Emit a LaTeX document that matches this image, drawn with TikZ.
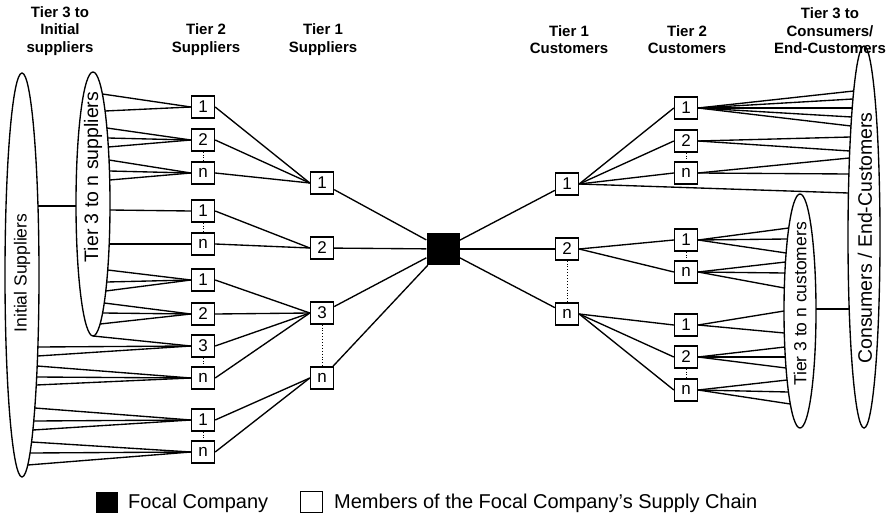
\documentclass[tikz,border=0pt]{standalone}
\usepackage{fontspec}
\setmainfont{Liberation Sans}
\usetikzlibrary{shapes.geometric}
% fan of lines from a box anchor to points on an ellipse boundary
% #1 anchor, #2 list of y, #3 cx, #4 cy, #5 rx, #6 ry, #7 side (+1 right, -1 left)
\newcommand\fanto[7]{%
  \foreach \yy in {#2}{%
    \path ({#3+#7*#5*sqrt(1-((\yy-#4)/#6)^2)},\yy) coordinate (fanend);
    \draw[ln] (#1) -- (fanend);
  }}
\newcommand\fanTS[2]{\fanto{#1}{#2}{93}{204}{17}{132}{1}}
\newcommand\fanIS[2]{\fanto{#1}{#2}{22}{275}{17}{202}{1}}
\newcommand\fanCE[2]{\fanto{#1}{#2}{864}{237}{16}{191}{-1}}
\newcommand\fanTC[2]{\fanto{#1}{#2}{800}{311}{16}{117}{-1}}
\begin{document}
\begin{tikzpicture}[x=1pt,y=-1pt,
  ln/.style={line width=1.35pt},
  mbox/.style={draw, line width=1.35pt, fill=white, minimum width=23pt, minimum height=22pt,
    inner sep=0pt, font=\fontsize{17}{17}\selectfont},
  focalbox/.style={fill=black, minimum width=33pt, minimum height=32pt, inner sep=0pt},
  oval/.style={draw, ellipse, line width=1.35pt, inner sep=0pt, outer sep=0pt},
  dots/.style={dotted, line width=0.9pt},
  hdr/.style={font=\bfseries\fontsize{15}{17.5}\selectfont, align=center, inner sep=0pt},
  legtxt/.style={font=\fontsize{20}{20}\selectfont, anchor=west, inner sep=0pt},
]
\useasboundingbox (0,0) rectangle (893,527);

% ---------- headers ----------
\node[hdr] (h1) at (60,31) {Tier 3 to\\Initial\\suppliers};
\node[hdr] (h2) at (206,39.5) {Tier 2\\Suppliers};
\node[hdr] (h3) at (323,39.5) {Tier 1\\Suppliers};
\node[hdr] (h4) at (569,39.5) {Tier 1\\Customers};
\node[hdr] (h5) at (687,39.5) {Tier 2\\Customers};
\node[hdr] (h6) at (830,31) {Tier 3 to\\Consumers/\\End-Customers};

% ---------- ellipses ----------
\node[oval, minimum width=34pt, minimum height=404pt] (inis) at (22,275) {};
\node[oval, minimum width=34pt, minimum height=264pt] (t3s) at (93,204) {};
\node[oval, minimum width=32pt, minimum height=382pt] (cons) at (864,237) {};
\node[oval, minimum width=32pt, minimum height=234pt] (t3c) at (800,311) {};
\node[rotate=90, font=\fontsize{17.5}{17.5}\selectfont] (inisl) at (22,273) {Initial Suppliers};
\node[rotate=90, font=\fontsize{19.5}{19.5}\selectfont] (t3sl) at (93,177) {Tier 3 to n suppliers};
\node[rotate=90, font=\fontsize{19.5}{19.5}\selectfont] (consl) at (865,238) {Consumers / End-Customers};
\node[rotate=90, font=\fontsize{17.5}{17.5}\selectfont] (t3cl) at (800,304) {Tier 3 to n customers};

% links between ellipses
\path ({22+17*sqrt(1-((206-275)/202)^2)},206) coordinate (ia);
\path ({93-17*sqrt(1-((206-204)/132)^2)},206) coordinate (ib);
\draw[ln] (ia) -- (ib);
\path ({800+16*sqrt(1-((309-311)/117)^2)},309) coordinate (ca);
\path ({864-16*sqrt(1-((309-237)/191)^2)},309) coordinate (cb);
\draw[ln] (ca) -- (cb);

% ---------- tier 2 suppliers ----------
\node[mbox] (s2a1) at (203,107) {1};
\node[mbox] (s2a2) at (203,140) {2};
\node[mbox] (s2an) at (203,173) {n};
\node[mbox] (s2b1) at (203,211) {1};
\node[mbox] (s2bn) at (203,244) {n};
\node[mbox] (s2c1) at (203,280) {1};
\node[mbox] (s2c2) at (203,314) {2};
\node[mbox] (s2c3) at (203,346) {3};
\node[mbox] (s2cn) at (203,378) {n};
\node[mbox] (s2d1) at (203,420) {1};
\node[mbox] (s2dn) at (203,452) {n};

% ---------- tier 1 suppliers ----------
\node[mbox] (s1a) at (322,183) {1};
\node[mbox] (s1b) at (322,248) {2};
\node[mbox] (s1c) at (322,313) {3};
\node[mbox] (s1n) at (322,378) {n};

% ---------- focal ----------
\node[focalbox] (focal) at (443,249) {};

% ---------- tier 1 customers ----------
\node[mbox] (c1a) at (567,184) {1};
\node[mbox] (c1b) at (567,249) {2};
\node[mbox] (c1n) at (567,314) {n};

% ---------- tier 2 customers ----------
\node[mbox] (c2a1) at (686,108) {1};
\node[mbox] (c2a2) at (686,141) {2};
\node[mbox] (c2an) at (686,173) {n};
\node[mbox] (c2b1) at (686,240) {1};
\node[mbox] (c2bn) at (686,272) {n};
\node[mbox] (c2c1) at (686,325) {1};
\node[mbox] (c2c2) at (686,357) {2};
\node[mbox] (c2cn) at (686,390) {n};

% ---------- fans to the ellipses ----------
\fanTS{s2a1.west}{94,111}
\fanTS{s2a2.west}{128,138,147}
\fanTS{s2an.west}{160,171,180}
\fanTS{s2b1.west}{210}
\fanTS{s2bn.west}{244}
\fanTS{s2c1.west}{270,282,291}
\fanTS{s2c2.west}{303,313,324}
\draw[ln] (t3s.south) -- (s2c3.west);
\fanIS{s2c3.west}{347,356}
\fanIS{s2cn.west}{366,377,385}
\fanIS{s2d1.west}{408,421,430}
\fanIS{s2dn.west}{442,453,465}

\fanCE{c2a1.east}{91,99,108,117,126}
\fanCE{c2a2.east}{137,151}
\fanCE{c2an.east}{158,174}
\fanCE{c1a.east}{193}
\fanTC{c2b1.east}{228,239,253}
\fanTC{c2bn.east}{262,273,288}
\fanTC{c2c1.east}{311,333}
\fanTC{c2c2.east}{347,357,368}
\fanTC{c2cn.east}{380,392,404}

% ---------- tier links ----------
\foreach \b in {s2a1,s2a2,s2an} \draw[ln] (\b.east) -- (s1a.west);
\foreach \b in {s2b1,s2bn} \draw[ln] (\b.east) -- (s1b.west);
\foreach \b in {s2c1,s2c2,s2c3,s2cn} \draw[ln] (\b.east) -- (s1c.west);
\foreach \b in {s2d1,s2dn} \draw[ln] (\b.east) -- (s1n.west);
\foreach \b in {s1a,s1b,s1c,s1n} \draw[ln] (\b) -- (focal);
\foreach \b in {c1a,c1b,c1n} \draw[ln] (focal) -- (\b);
\foreach \b in {c2a1,c2a2,c2an} \draw[ln] (c1a.east) -- (\b.west);
\foreach \b in {c2b1,c2bn} \draw[ln] (c1b.east) -- (\b.west);
\foreach \b in {c2c1,c2c2,c2cn} \draw[ln] (c1n.east) -- (\b.west);

% ---------- dotted ----------
\draw[dots] (s2a2.south) -- (s2an.north);
\draw[dots] (s2b1.south) -- (s2bn.north);
\draw[dots] (s2c3.south) -- (s2cn.north);
\draw[dots] (s2d1.south) -- (s2dn.north);
\draw[dots] (s1c.south) -- (s1n.north);
\draw[dots] (c1b.south) -- (c1n.north);
\draw[dots] (c2a2.south) -- (c2an.north);
\draw[dots] (c2b1.south) -- (c2bn.north);
\draw[dots] (c2c2.south) -- (c2cn.north);

% ---------- legend ----------
\node[fill=black, minimum width=22pt, minimum height=21pt, inner sep=0pt] (lgf) at (107,502) {};
\node[legtxt] (lgft) at (128,503) {Focal Company};
\node[draw, line width=1pt, minimum width=22pt, minimum height=21pt, inner sep=0pt] (lgm) at (311,502) {};
\node[legtxt] (lgmt) at (334,503) {Members of the Focal Company’s Supply Chain};
\end{tikzpicture}
\end{document}
